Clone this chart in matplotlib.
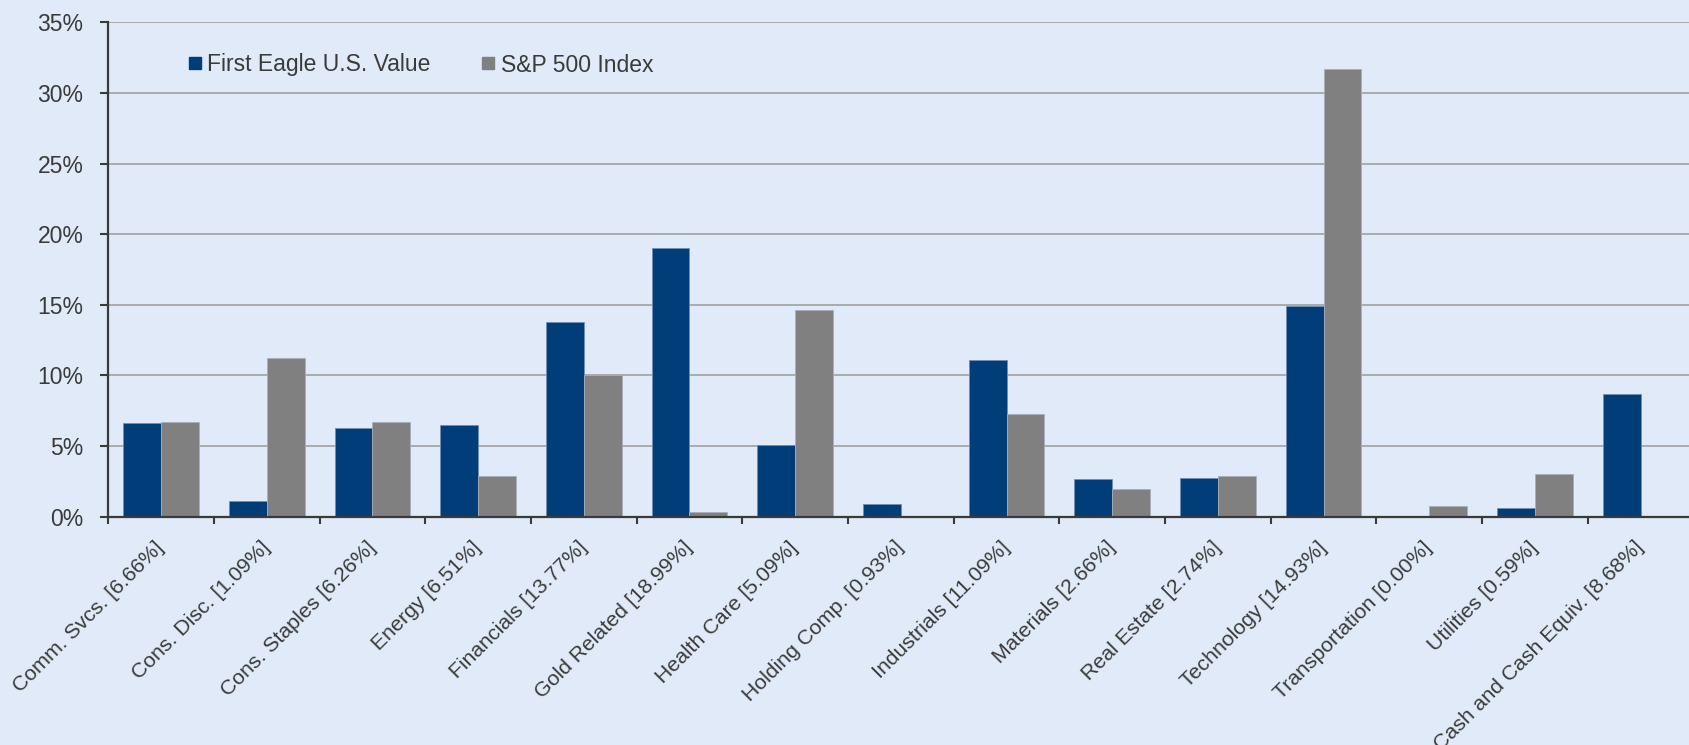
import matplotlib
matplotlib.use("Agg")
import matplotlib.pyplot as plt
from matplotlib.lines import Line2D
import numpy as np

categories = ["Comm. Svcs.", "Cons. Disc.", "Cons. Staples", "Energy", "Financials",
              "Gold Related", "Health Care", "Holding Comp.", "Industrials", "Materials",
              "Real Estate", "Technology", "Transportation", "Utilities", "Cash and Cash Equiv."]
first_eagle = [6.66, 1.09, 6.26, 6.51, 13.77, 18.99, 5.09, 0.93, 11.09, 2.66, 2.74, 14.93, 0.00, 0.59, 8.68]
sp500 = [6.70, 11.25, 6.70, 2.85, 10.0, 0.35, 14.6, 0.0, 7.3, 1.95, 2.9, 31.7, 0.75, 3.0, 0.0]
series_names = ["First Eagle U.S. Value", "S&P 500 Index"]
yticks = [0, 5, 10, 15, 20, 25, 30, 35]

BG = "#E1EAF8"
NAVY = "#003D79"
GRAY = "#808080"
TXT = "#3A3A3A"

plt.rcParams['font.family'] = ['Liberation Sans', 'DejaVu Sans']

fig = plt.figure(figsize=(16.9, 7.45), dpi=100, facecolor=BG)
ax = fig.add_axes([108.3/1690, 1-516.7/745, 1-108.3/1690 + 0.002, (516.7-22.3)/745])
ax.set_facecolor(BG)

x = np.arange(len(categories))
w = 0.357
ax.bar(x - w/2, first_eagle, w, color=NAVY, edgecolor="#6F8FB5", linewidth=0.6, zorder=3)
ax.bar(x + w/2, sp500, w, color=GRAY, edgecolor="#A8AEB8", linewidth=0.6, zorder=3)

ax.set_xlim(-0.5, len(categories) - 0.5)
ax.set_ylim(0, 35)
ax.set_yticks(yticks)
ax.set_yticklabels([f"{v}%" for v in yticks])
ax.yaxis.grid(True, color="#A6A6A6", linewidth=1.3, zorder=0)
ax.set_axisbelow(True)

labels = [f"{c} [{v:.2f}%]" for c, v in zip(categories, first_eagle)]
ax.set_xticks(x)
ax.set_xticklabels(labels, rotation=45, ha="right", va="center", rotation_mode="anchor",
                   fontsize=15.3, color=TXT)
ax.set_xticks(np.arange(-0.5, len(categories), 1.0), minor=True)
ax.tick_params(axis="x", which="major", length=0, pad=20)
ax.tick_params(axis="x", which="minor", length=5, width=1.5, color=TXT, direction="out")
ax.tick_params(axis="y", length=6, width=1.5, color=TXT, labelsize=16.5, labelcolor=TXT, pad=12)

for s in ["top", "right"]:
    ax.spines[s].set_visible(False)
for s in ["left", "bottom"]:
    ax.spines[s].set_color(TXT)
    ax.spines[s].set_linewidth(1.6)
    ax.spines[s].set_zorder(4)

handles = [Line2D([], [], marker="s", linestyle="none", color=NAVY, markersize=8.6),
           Line2D([], [], marker="s", linestyle="none", color=GRAY, markersize=8.6)]
fig.legend(handles, series_names, loc="center left",
           bbox_to_anchor=(188/1690, 1-65/745), bbox_transform=fig.transFigure,
           ncol=2, frameon=False, fontsize=16.5, labelcolor=TXT,
           handlelength=0.6, handletextpad=0.25, columnspacing=2.2,
           borderpad=0, borderaxespad=0)

fig.savefig("out.png", dpi=100, facecolor=BG)
